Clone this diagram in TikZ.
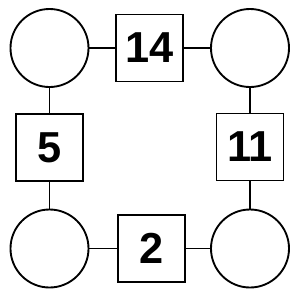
\documentclass[tikz,border=0pt]{standalone}
\usepackage{fontspec}
\setmainfont{Liberation Sans}
\usetikzlibrary{positioning}

\begin{document}
\begin{tikzpicture}[
  x=0.03cm, y=-0.03cm,
  line width=1.6pt,
  ring/.style={circle, draw=black, fill=white, minimum size=2.34cm, inner sep=0pt},
  numbox/.style={rectangle, draw=black, fill=white, minimum size=2.01cm, inner sep=0pt,
                 font=\fontsize{37}{40}\selectfont\bfseries},
  link/.style={draw=black}
]
\useasboundingbox (0,0) rectangle (300,300);

% corners
\node[ring] (tl) at (49.5,48)   {};
\node[ring] (tr) at (250,48)    {};
\node[ring] (bl) at (49.5,248.5) {};
\node[ring] (br) at (250,248.5)  {};

% sums
\node[numbox] (top)   at (149.5,48)    {14};
\node[numbox] (left)  at (49.5,147.5)  {5};
\node[numbox] (right) at (250,147)     {11};
\node[numbox] (bot)   at (151.5,248.5) {2};

% links
\draw[link] (tl) -- (top);
\draw[link] (top) -- (tr);
\draw[link] (tl) -- (left);
\draw[link] (left) -- (bl);
\draw[link] (tr) -- (right);
\draw[link] (right) -- (br);
\draw[link] (bl) -- (bot);
\draw[link] (bot) -- (br);
\end{tikzpicture}
\end{document}
